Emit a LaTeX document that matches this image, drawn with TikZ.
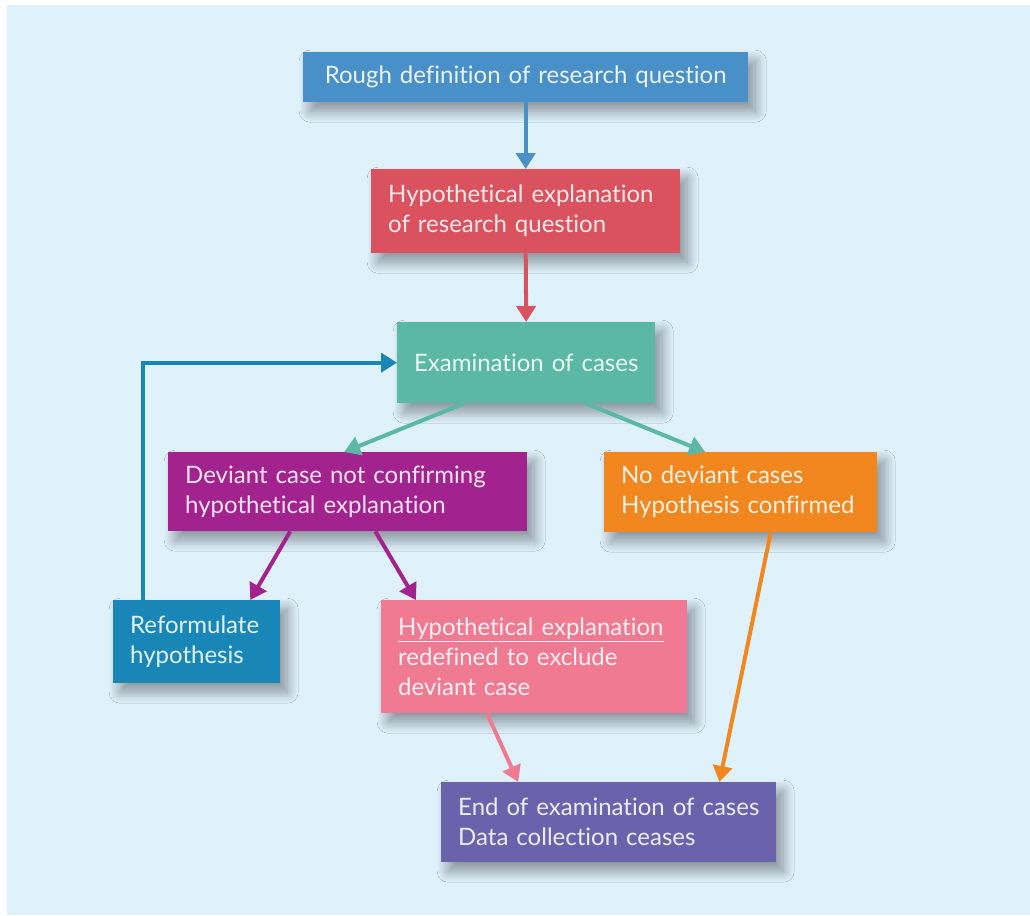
\documentclass[tikz,border=0pt]{standalone}
\usepackage{fontspec}
\setmainfont{Lato}[Ligatures=NoCommon]
\usetikzlibrary{arrows.meta,calc,shadows.blur}
\definecolor{pagebg}{RGB}{223,241,251}
\definecolor{cRough}{RGB}{74,144,200}
\definecolor{cHyp}{RGB}{217,82,94}
\definecolor{cExam}{RGB}{91,184,164}
\definecolor{cDev}{RGB}{163,35,142}
\definecolor{cNoDev}{RGB}{242,135,31}
\definecolor{cReform}{RGB}{24,135,184}
\definecolor{cRedef}{RGB}{240,122,146}
\definecolor{cEnd}{RGB}{107,98,172}
\begin{document}
\begin{tikzpicture}[x=1pt,y=-1pt,
  box/.style={anchor=north west, inner xsep=17pt, inner ysep=0pt, align=left,
    font=\fontsize{24}{30}\selectfont,
    blur shadow={shadow xshift=7pt, shadow yshift=-9pt, shadow opacity=40,
      shadow blur steps=24, shadow blur radius=11pt}},
  link/.style={line width=4pt, -{Triangle[width=19pt,length=16pt]}}
]
% page and panel background
\useasboundingbox (0,0) rectangle (1030,915);
\fill[white] (0,0) rectangle (1030,915);
\fill[pagebg] (7,5) rectangle (1030,915);

% boxes
\node[box, fill=cRough, text=white!88!cRough, text width=411pt, align=center,
  minimum height=50pt] (rough) at (303,52) {Rough definition of research question};
\node[box, fill=cHyp, text=white!88!cHyp, text width=275pt,
  minimum height=84pt] (hyp) at (371,169) {\mbox{Hypothetical explanation}\\of research question};
\node[box, fill=cExam, text=white!88!cExam, inner xsep=9pt, text width=240pt, align=center,
  minimum height=81pt] (exam) at (397,322) {Examination of cases};
\node[box, fill=cDev, text=white!88!cDev, text width=325pt,
  minimum height=79pt] (dev) at (168,452) {Deviant case not confirming\\hypothetical explanation};
\node[box, fill=cNoDev, text=white!88!cNoDev, text width=239pt,
  minimum height=80pt] (nodev) at (604,452) {No deviant cases\\\mbox{Hypothesis confirmed}};
\node[box, fill=cReform, text=white!88!cReform, text width=133pt,
  minimum height=83pt] (reform) at (113,600) {Reformulate\\hypothesis};
\node[box, fill=cRedef, text=white!88!cRedef, text width=272pt,
  minimum height=113pt] (redef) at (381,600) {\mbox{\underline{Hypothetical explanation}}\\redefined to exclude\\deviant case};
\node[box, fill=cEnd, text=white!88!cEnd, text width=301pt,
  minimum height=80pt] (end) at (441,782) {\mbox{End of examination of cases}\\Data collection ceases};

% connectors
\draw[link, cRough] (rough.south) -- (hyp.north);
\draw[link, cHyp] (hyp.south) -- (exam.north);
\draw[link, cExam] ($(exam.south west)!0.26!(exam.south east)$) -- ($(dev.north west)!0.49!(dev.north east)$);
\draw[link, cExam] ($(exam.south west)!0.73!(exam.south east)$) -- ($(nodev.north west)!0.37!(nodev.north east)$);
\draw[link, cDev] ($(dev.south west)!0.34!(dev.south east)$) -- ($(reform.north west)!0.82!(reform.north east)$);
\draw[link, cDev] ($(dev.south west)!0.577!(dev.south east)$) -- ($(redef.north west)!0.114!(redef.north east)$);
\draw[link, cReform] ($(reform.north west)!0.18!(reform.north east)$) |- (exam.west);
\draw[link, cRedef] ($(redef.south west)!0.346!(redef.south east)$) -- ($(end.north west)!0.23!(end.north east)$);
\draw[link, cNoDev] ($(nodev.south west)!0.61!(nodev.south east)$) -- ($(end.north west)!0.83!(end.north east)$);
\end{tikzpicture}
\end{document}
